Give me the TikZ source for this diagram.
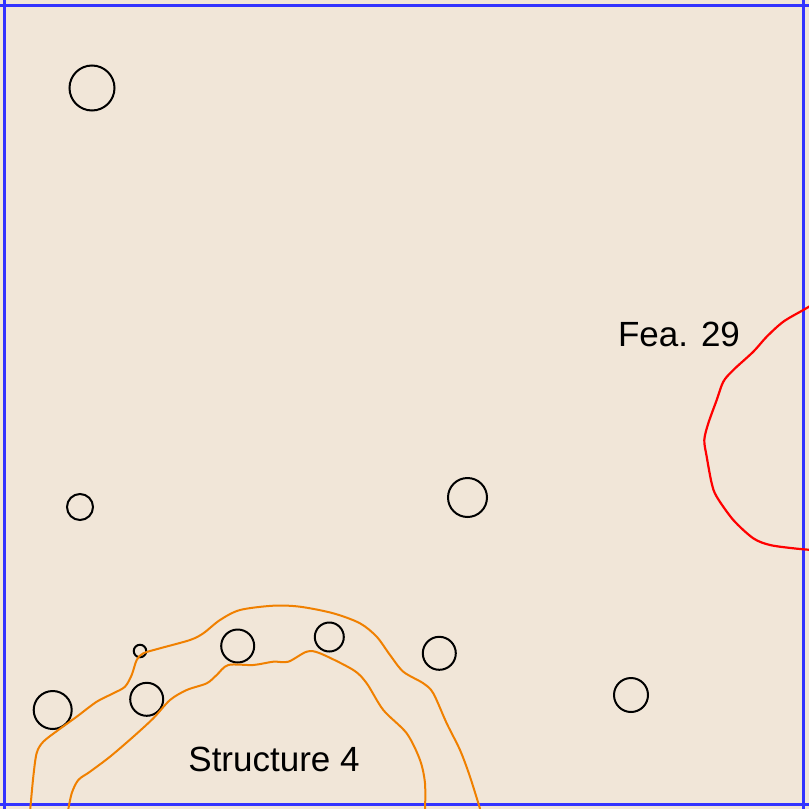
\documentclass[tikz,border=0pt]{standalone}
\usepackage{fontspec}
\setmainfont{Liberation Sans}
\definecolor{soil}{RGB}{241,230,216}
\definecolor{gridblue}{RGB}{51,51,255}
\definecolor{structorange}{RGB}{240,128,0}
\tikzstyle{posthole}=[shape = circle, inner sep = 0pt, draw, line width = 2pt]
\tikzstyle{structline}=[draw = structorange, line width = 2pt]
\tikzstyle{featline}=[draw = red, line width = 2.2pt]
\tikzstyle{labelText}=[anchor = base, inner sep = 0pt, font = \fontsize{35}{42}\selectfont]

\begin{document}
\begin{tikzpicture}[x = 1pt, y = -1pt]
\fill[soil] (0,0) rectangle (809,809);
\useasboundingbox (0,0) rectangle (809,809);
\tikzstyle{gridLine}=[draw = gridblue, line width = 3pt]
\draw[gridLine] (4,0) -- (4,809);
\draw[gridLine] (803,0) -- (803,809);
\draw[gridLine] (0,5) -- (809,5);
\draw[gridLine] (0,804) -- (809,804);
\node[posthole, minimum size = 45pt] (ph1) at (92,88) {};
\node[posthole, minimum size = 26pt] (ph2) at (80,507) {};
\node[posthole, minimum size = 39pt] (ph3) at (467.5,497.5) {};
\node[posthole, minimum size = 38pt] (ph4) at (52.7,710) {};
\node[posthole, minimum size = 12.5pt] (ph5) at (140,651) {};
\node[posthole, minimum size = 33pt] (ph6) at (146.7,699.3) {};
\node[posthole, minimum size = 33pt] (ph7) at (237.7,646) {};
\node[posthole, minimum size = 29pt] (ph8) at (329.3,637) {};
\node[posthole, minimum size = 33pt] (ph9) at (439.3,653.3) {};
\node[posthole, minimum size = 34pt] (ph10) at (631,695) {};
\draw[structline] plot[smooth, tension = 0.5] coordinates {(30,812) (33.3,776.7) (36.7,753) (43.3,741.7) (58.3,730) (76.7,716.7) (96.7,701.7) (113.3,693.3) (125,686.7) (131.7,675) (136.7,660) (143.3,653.3) (160,648.3) (190,640) (203.3,633.3) (220,620) (240,610) (273.3,605.7) (300,606.7) (333.3,613.3) (360,623.3) (376.7,636.7) (390,655) (403.3,671.7) (423.3,683.3) (433.3,693.3) (446.7,723.3) (460,750) (470,776.7) (481,812)};
\draw[structline] plot[smooth, tension = 0.5] coordinates {(67.8,812) (71.7,793.3) (78.3,780) (90,771.7) (110,756.7) (133.3,736.7) (153.3,718.3) (170,700) (186.7,690) (206.7,683.3) (216.7,675) (228.3,665) (253.3,665) (273.3,661.7) (288.3,661.7) (306.7,651.7) (320,653.3) (353.3,670) (366.7,683.3) (383.3,710) (406.7,733.3) (420,760) (425,783.3) (425,812)};
\draw[featline] plot[smooth, tension = 0.5] coordinates {(812,305) (803.3,310) (783.3,321.7) (766.7,336.7) (753.3,351.7) (733.3,370) (723.3,381.7) (716.7,400) (708.3,423.3) (704.3,440) (706.7,456.7) (711.7,483.3) (716.7,496.7) (733.3,520) (753.3,538.3) (770,545) (793.3,548.3) (812,550)};
\node[labelText] (fea) at (679,346.7) {Fea. 29};
\node[labelText] (struct) at (274,771.7) {Structure 4};
\end{tikzpicture}
\end{document}
